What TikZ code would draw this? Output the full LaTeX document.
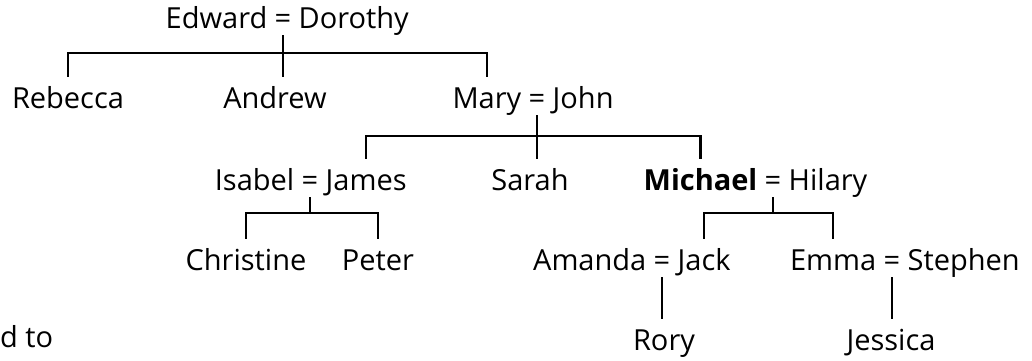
\documentclass[tikz,border=0pt]{standalone}
\usepackage{fontspec}
\setmainfont{Open Sans}
\usetikzlibrary{positioning}
\tikzset{%
  person/.style={anchor=base, inner xsep=0pt, inner ysep=11pt,
    text height=20pt, text depth=6pt},% a name in the tree
  wed/.style={anchor=base, inner xsep=7pt, inner ysep=7pt,
    text height=20pt, text depth=0pt},% the = between a couple
  bond/.style={line width=2.2pt}% family lines
}
\begin{document}
\begin{tikzpicture}[x=1pt, y=-1pt, font=\fontsize{29}{34}\selectfont]
\useasboundingbox (0,0) rectangle (1032,360);

% first generation
\node[wed] (ed) at (283, 28) {=};
\node[person, base left=0pt of ed] (edward) {Edward};
\node[person, base right=0pt of ed] (dorothy) {Dorothy};

% second generation
\node[person] (rebecca) at (68, 108)  {Rebecca};
\node[person] (andrew)  at (275, 108) {Andrew};
\node[wed] (mj) at (537, 108) {=};
\node[person, base left=0pt of mj] (mary) {Mary};
\node[person, base right=0pt of mj] (john) {John};

% third generation
\node[wed] (ij) at (310, 190) {=};
\node[person, base left=0pt of ij] (isabel) {Isabel};
\node[person, base right=0pt of ij] (james) {James};
\node[person] (sarah) at (530, 190) {Sarah};
\node[wed] (mh) at (773, 190) {=};
\node[person, base left=0pt of mh] (michael) {\bfseries Michael};
\node[person, base right=0pt of mh] (hilary) {Hilary};

% fourth generation
\node[person] (christine) at (246, 270) {Christine};
\node[person] (peter)     at (378, 270) {Peter};
\node[wed] (aj) at (662, 270) {=};
\node[person, base left=0pt of aj] (amanda) {Amanda};
\node[person, base right=0pt of aj] (jack) {Jack};
\node[wed] (es) at (892, 270) {=};
\node[person, base left=0pt of es] (emma) {Emma};
\node[person, base right=0pt of es] (stephen) {Stephen};

% fifth generation
\node[person] (rory)    at (664, 350) {Rory};
\node[person] (jessica) at (891, 350) {Jessica};

\node[person, anchor=base west] (cut) at (0, 347) {d to};

\coordinate (bar1) at (283, 53);
\coordinate (bar2) at (537, 136);
\coordinate (bar3) at (310, 213);
\coordinate (bar4) at (773, 213);

\draw[bond] (ed.south) -- (ed.south |- andrew.north);
\draw[bond] (rebecca.north) |- (bar1) -| (mary.north);
\draw[bond] (mj.south) -- (mj.south |- sarah.north);
\draw[bond] (james.north) |- (bar2) -| (michael.north);
\draw[bond] (ij.south) -- (bar3);
\draw[bond] (christine.north) |- (bar3) -| (peter.north);
\draw[bond] (mh.south) -- (bar4);
\draw[bond] (jack.north) |- (bar4) -| (emma.north);
\draw[bond] (aj.south) -- (aj.south |- rory.north);
\draw[bond] (es.south) -- (es.south |- jessica.north);

\end{tikzpicture}
\end{document}
